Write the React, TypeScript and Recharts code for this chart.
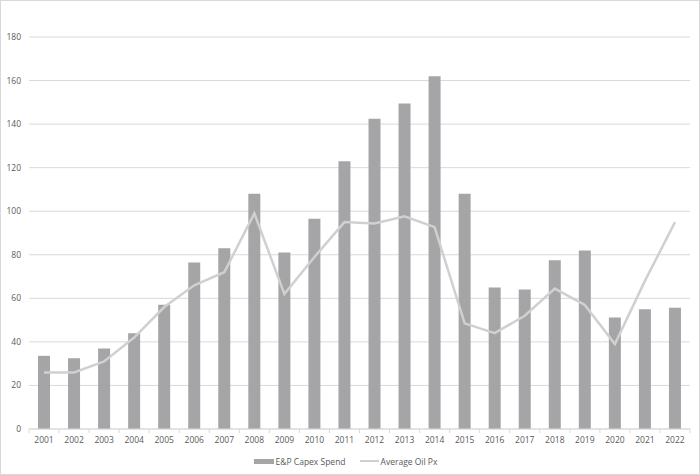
import { Bar, CartesianGrid, ComposedChart, Legend, Line, XAxis, YAxis } from "recharts";

const years = [
  "2001", "2002", "2003", "2004", "2005", "2006", "2007", "2008", "2009", "2010", "2011",
  "2012", "2013", "2014", "2015", "2016", "2017", "2018", "2019", "2020", "2021", "2022",
];
const capexSpend = [
  33.6, 32.5, 37, 44, 57, 76.5, 83, 108, 81, 96.5, 123,
  142.5, 149.5, 162, 108, 65, 64, 77.5, 82, 51.2, 55, 55.7,
];
const averageOilPx = [
  26, 26, 31, 42, 56, 66, 72, 99, 62, 79, 95,
  94.4, 97.7, 92.7, 48.5, 44, 52, 64.5, 57, 39, 68, 95,
];
const yTicks = [0, 20, 40, 60, 80, 100, 120, 140, 160, 180];

const data = years.map((year, i) => ({
  year,
  capex: capexSpend[i],
  oil: averageOilPx[i],
}));

const WIDTH = 698;
const HEIGHT = 473;
const MARGIN = { top: 36, right: 9, bottom: 5, left: 0 };
const Y_AXIS_WIDTH = 28;
const BAND = (WIDTH - MARGIN.left - MARGIN.right - Y_AXIS_WIDTH) / years.length;

const textColor = "#595959";
const gridColor = "#d9d9d9";
const barColor = "#a5a5a7";
const lineColor = "#d0d0d0";
const font = "'Open Sans', 'Liberation Sans', sans-serif";

function XTick(props: any) {
  const { x, y, payload, index } = props;
  return (
    <g>
      <line x1={x - BAND / 2} x2={x - BAND / 2} y1={y - 8} y2={y - 4} stroke={gridColor} />
      {index === years.length - 1 ? (
        <line x1={x + BAND / 2} x2={x + BAND / 2} y1={y - 8} y2={y - 4} stroke={gridColor} />
      ) : null}
      <text x={x} y={y} dy="0.71em" textAnchor="middle" fill={textColor} fontSize={8.5} fontFamily={font}>
        {payload.value}
      </text>
    </g>
  );
}

function LegendContent() {
  const itemStyle = { display: "flex", alignItems: "center", gap: 2 } as const;
  return (
    <div
      style={{
        height: 16,
        display: "flex",
        justifyContent: "center",
        alignItems: "center",
        gap: 14,
        fontSize: 8.5,
        fontFamily: font,
        color: textColor,
      }}
    >
      <div style={itemStyle}>
        <span style={{ display: "inline-block", width: 20, height: 5, background: barColor }} />
        <span>E&amp;P Capex Spend</span>
      </div>
      <div style={itemStyle}>
        <span style={{ display: "inline-block", width: 19, height: 2, background: lineColor }} />
        <span>Average Oil Px</span>
      </div>
    </div>
  );
}

export default function App() {
  return (
    <div
      style={{
        position: "absolute",
        top: 0,
        left: 0,
        width: 700,
        height: 475,
        boxSizing: "border-box",
        border: `1px solid ${gridColor}`,
        background: "#fff",
      }}
    >
      <ComposedChart width={WIDTH} height={HEIGHT} data={data} margin={MARGIN}>
        <CartesianGrid stroke={gridColor} vertical={false} />
        <XAxis
          dataKey="year"
          height={24}
          axisLine={{ stroke: gridColor }}
          tickLine={false}
          interval={0}
          tick={<XTick />}
        />
        <YAxis
          width={Y_AXIS_WIDTH}
          domain={[0, 180]}
          ticks={yTicks}
          axisLine={false}
          tickLine={false}
          tick={{ fill: textColor, fontSize: 8.5, fontFamily: font }}
        />
        <Legend verticalAlign="bottom" content={<LegendContent />} />
        <Bar dataKey="capex" name="E&P Capex Spend" fill={barColor} barSize={12} isAnimationActive={false} />
        <Line
          dataKey="oil"
          name="Average Oil Px"
          type="linear"
          stroke={lineColor}
          strokeWidth={2.5}
          dot={false}
          activeDot={false}
          isAnimationActive={false}
        />
      </ComposedChart>
    </div>
  );
}
